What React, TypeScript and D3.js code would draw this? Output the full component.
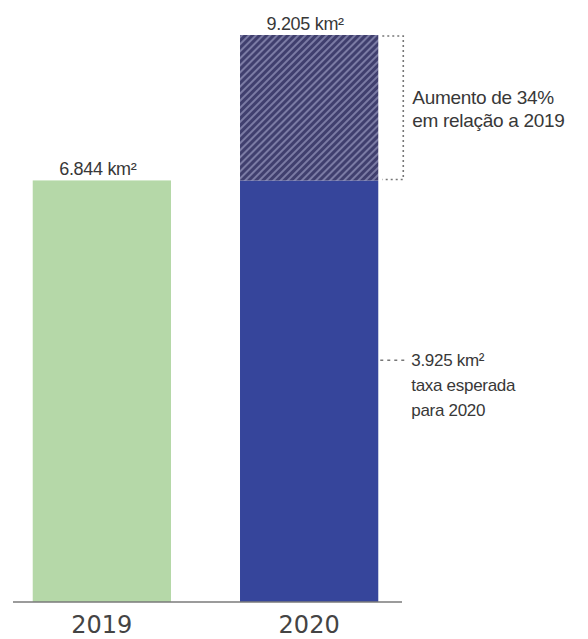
import * as d3 from "d3";

const WIDTH = 588;
const HEIGHT = 639;

const YEARS = ["2019", "2020"];
const AREA = [6844, 9205];
const AREA_LABELS = ["6.844 km²", "9.205 km²"];
const EXPECTED_2020 = 3925;
const EXPECTED_LINES = ["3.925 km²", "taxa esperada", "para 2020"];
const INCREASE_LINES = ["Aumento de 34%", "em relação a 2019"];

const GREEN = "#b5d8a8";
const BLUE = "#36459b";
const NAVY = "#403f6e";
const TEXT = "#383838";
const FONT = "'Liberation Sans', Arial, sans-serif";

const MARGIN = { top: 35, bottom: 37 };

export default function App() {
  const xScale = d3
    .scaleBand<string>()
    .domain(YEARS)
    .range([12, 399])
    .paddingInner(0.333)
    .paddingOuter(0.1);

  const yScale = d3
    .scaleLinear()
    .domain([0, d3.max(AREA) as number])
    .range([HEIGHT - MARGIN.bottom, MARGIN.top]);

  const bw = xScale.bandwidth();
  const base = yScale(0);
  const x19 = xScale("2019") as number;
  const x20 = xScale("2020") as number;
  const y19 = yScale(AREA[0]);
  const y20 = yScale(AREA[1]);
  const yExp = yScale(EXPECTED_2020);
  const right20 = x20 + bw;
  const bracketX = right20 + 25;

  return (
    <svg
      width={WIDTH}
      height={HEIGHT}
      style={{ position: "absolute", left: 0, top: 0, background: "#fff" }}
    >
      <defs>
        <pattern
          id="hatch"
          width={5}
          height={5}
          patternUnits="userSpaceOnUse"
          patternTransform="rotate(45)"
        >
          <rect width={5} height={5} fill={NAVY} />
          <line x1={1} y1={0} x2={1} y2={5} stroke="#a3a3c9" strokeWidth={1.2} />
        </pattern>
      </defs>

      {/* 2019 bar */}
      <rect x={x19} y={y19} width={bw} height={base - y19} fill={GREEN} />

      {/* 2020 bar: solid part up to the 2019 level, hatched increase above */}
      <rect x={x20} y={y19} width={bw} height={base - y19} fill={BLUE} />
      <rect x={x20} y={y20} width={bw} height={y19 - y20} fill="url(#hatch)" />

      {/* value labels */}
      {AREA.map((v, i) => (
        <text
          key={i}
          x={(xScale(YEARS[i]) as number) + bw / 2 - 4}
          y={yScale(v) - 5}
          textAnchor="middle"
          fontFamily={FONT}
          fontSize={18}
          fill={TEXT}
          letterSpacing={-0.3}
        >
          {AREA_LABELS[i]}
        </text>
      ))}

      {/* bracket for the increase */}
      <path
        d={`M${right20 + 4},${y20 + 1} H${bracketX} V${y19 - 1} H${right20 + 4}`}
        fill="none"
        stroke="#777"
        strokeWidth={1.6}
        strokeDasharray="2,3"
      />
      {INCREASE_LINES.map((t, i) => (
        <text
          key={t}
          x={bracketX + 9}
          y={104 + i * 23}
          fontFamily={FONT}
          fontSize={19}
          fill={TEXT}
          letterSpacing={-0.3}
        >
          {t}
        </text>
      ))}

      {/* expected rate marker */}
      <line
        x1={right20 + 2}
        x2={bracketX + 2}
        y1={yExp}
        y2={yExp}
        stroke="#777"
        strokeWidth={1.6}
        strokeDasharray="3,4"
      />
      {EXPECTED_LINES.map((t, i) => (
        <text
          key={t}
          x={bracketX + 8}
          y={yExp + 6 + i * 25}
          fontFamily={FONT}
          fontSize={17}
          fill={TEXT}
          letterSpacing={-0.3}
        >
          {t}
        </text>
      ))}

      {/* baseline */}
      <line x1={13} x2={402} y1={base} y2={base} stroke="#7a7a7a" strokeWidth={1.5} />

      {/* year labels */}
      {YEARS.map((y) => (
        <text
          key={y}
          x={(xScale(y) as number) + bw / 2}
          y={base + 31}
          textAnchor="middle"
          fontFamily="'DejaVu Sans', sans-serif"
          fontSize={24}
          fill="#444"
        >
          {y}
        </text>
      ))}
    </svg>
  );
}
